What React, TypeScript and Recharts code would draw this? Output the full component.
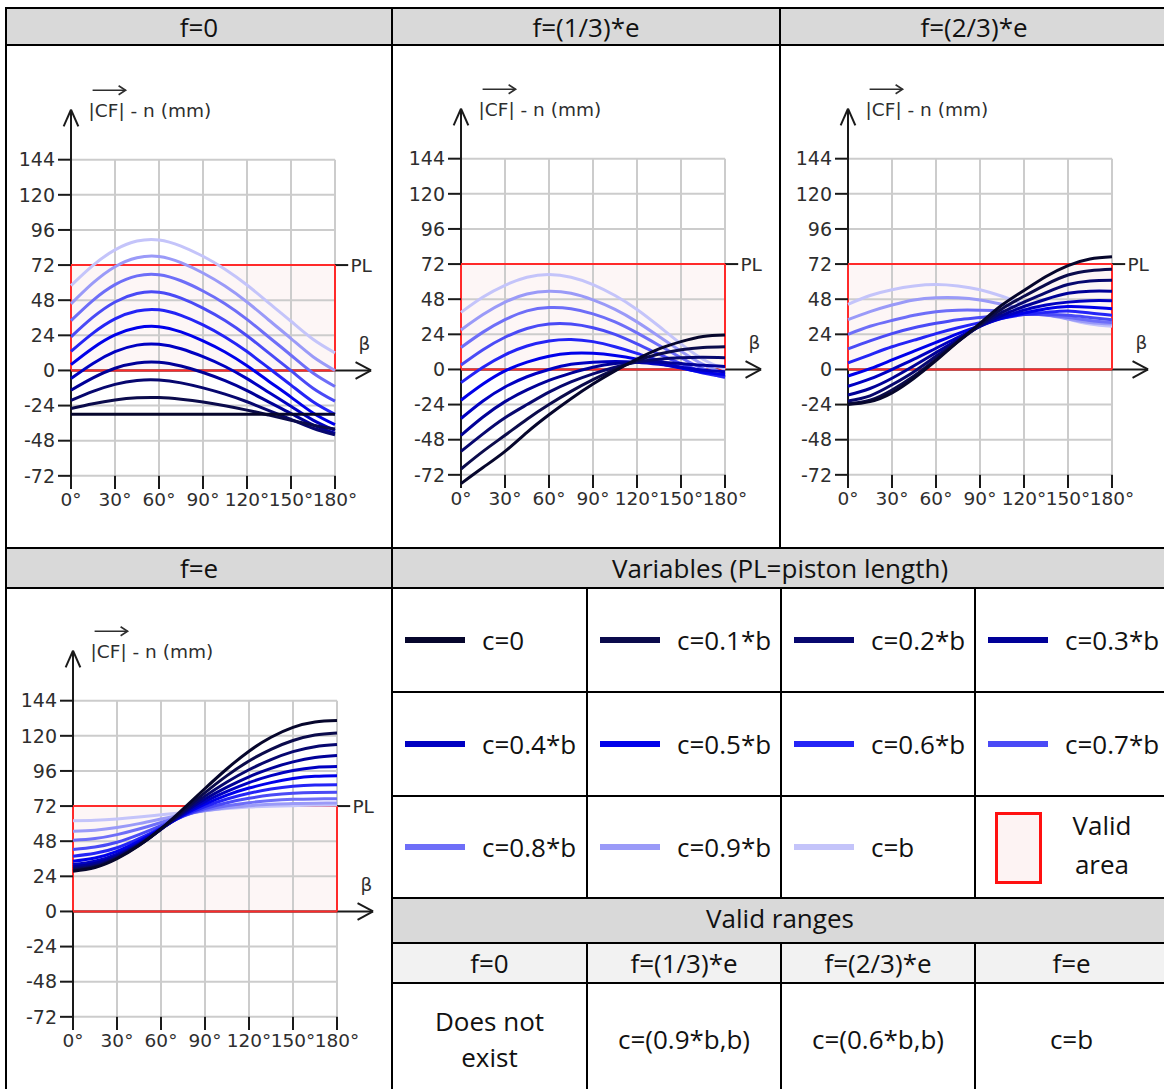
import React from 'react';
import { LineChart, Line, XAxis, YAxis, ReferenceLine, ReferenceArea, ReferenceDot } from 'recharts';

// ---------- data ----------
const betas = [0, 15, 30, 45, 60, 75, 90, 105, 120, 135, 150, 165, 180];
const xTicks = [0, 30, 60, 90, 120, 150, 180];
const yTicks = [-72, -48, -24, 0, 24, 48, 72, 96, 120, 144];
const pistonLength = 72;

const seriesNames = ['c=0', 'c=0.1*b', 'c=0.2*b', 'c=0.3*b', 'c=0.4*b', 'c=0.5*b', 'c=0.6*b', 'c=0.7*b', 'c=0.8*b', 'c=0.9*b', 'c=b'];
const seriesColors = ['#06062c', '#0b0b4c', '#07076f', '#000098', '#0000c2', '#0000ea', '#2424f6', '#4a4af6', '#6e6ef8', '#9a9af8', '#c4c4fa'];

const panelTitles = ['f=0', 'f=(1/3)*e', 'f=(2/3)*e', 'f=e'];
const validRanges = ['Does not exist', 'c=(0.9*b,b)', 'c=(0.6*b,b)', 'c=b'];

// f = 0
const f0Values: number[][] = [
  [-30, -30, -30, -30, -30, -30, -30, -30, -30, -30, -30, -30, -30],
  [-26, -22.7, -20.2, -18.7, -18.5, -19.7, -21.6, -24.1, -27.1, -30.5, -34, -37.4, -40],
  [-20.5, -14.3, -9.5, -6.8, -6.5, -8.5, -11.9, -16.2, -21.4, -27.5, -33.5, -39.5, -44],
  [-13.5, -5.1, 1.5, 5.1, 5.6, 3.0, -1.4, -7, -13.8, -21.6, -29.4, -37.2, -43],
  [-5.5, 4.8, 12.8, 17.3, 17.9, 14.8, 9.4, 2.7, -5.6, -15, -24.5, -33.9, -41],
  [4, 15.4, 24.3, 29.2, 29.9, 26.3, 20.2, 12.6, 3.2, -7.5, -18.2, -29, -37],
  [13, 25.5, 35.2, 40.6, 41.4, 37.6, 31.1, 22.9, 12.9, 1.5, -10, -21.4, -30],
  [23, 36.4, 46.8, 52.6, 53.4, 49.4, 42.6, 34.1, 23.7, 11.8, -0.1, -12.1, -21],
  [34, 47.9, 58.6, 64.6, 65.4, 61.3, 54.3, 45.6, 34.9, 22.7, 10.4, -1.8, -11],
  [45.5, 59.8, 70.9, 77, 77.9, 73.7, 66.6, 57.7, 46.8, 34.3, 21.8, 9.4, 0],
  [58, 71.8, 82.4, 88.4, 89.2, 85, 78, 69.2, 58.4, 46, 33.6, 21.3, 12],
];

// f = (1/3)*e
const f13Values: number[][] = [
  [-78, -67, -56, -43, -31, -20, -10, -1, 7, 14, 19, 22.5, 23.5],
  [-68, -56, -45, -34, -24, -15, -7, 0, 6, 10.5, 13.5, 15, 15.5],
  [-56, -44, -33, -24, -15.5, -8.5, -3, 1.5, 5, 7, 8, 8.3, 8],
  [-45, -32.5, -22, -14, -7.5, -2.5, 1.5, 4, 5, 5, 4, 2.8, 2],
  [-33.5, -21.5, -12, -5, 0, 3.5, 5, 5.5, 5, 3.5, 1.5, -0.5, -1.5],
  [-21, -10, -1, 5, 9, 11, 11, 9.5, 7, 4, 1, -2, -3.5],
  [-9, 1.5, 10, 16, 19.5, 20.5, 19, 15.5, 11, 6, 1.5, -2.5, -5],
  [3, 13.5, 22, 28, 31, 31, 28.5, 24, 17.5, 10.5, 4, -1.5, -5.5],
  [15, 25.5, 34, 40, 42.3, 41.5, 38, 32.5, 25, 16.5, 8, 0.5, -5],
  [27, 37.5, 46, 51.5, 53.4, 52, 47.5, 41, 32.5, 22.5, 12.5, 3.5, -3],
  [39, 49.5, 57.5, 63, 64.8, 63, 58, 50.5, 41, 29.5, 17.5, 7, 0],
];

// f = (2/3)*e
const f23Values: number[][] = [
  [-24, -22, -16, -6, 6, 19, 31.5, 44, 54, 63.5, 71, 75.5, 77],
  [-23.5, -21, -14, -4.5, 7, 19, 30.5, 41.5, 50, 58, 64.5, 67.5, 68.5],
  [-21.5, -18, -10.5, -1.5, 9, 19.5, 30, 39, 46, 52.5, 58, 60.5, 61],
  [-17.5, -13, -6, 2.5, 11.5, 20.5, 29.5, 37, 43, 48, 52, 53.5, 53.5],
  [-11.5, -6.5, 0, 7, 14.5, 22, 29.5, 35.5, 40.5, 44, 46, 47, 47],
  [-4.5, 0.5, 6.5, 12.5, 18.5, 24.5, 30, 35, 38.5, 41.5, 43, 42.5, 41.5],
  [4.5, 10, 15.5, 20, 24.5, 28.5, 32, 35, 37.5, 39, 40, 38.5, 37],
  [14, 19.5, 24.5, 28.5, 31.5, 34, 35.5, 37, 37.5, 37.5, 37, 35.5, 34],
  [24, 29.5, 33.5, 37, 39.5, 40.5, 40.5, 40, 38.5, 37, 35.5, 33.5, 32],
  [34, 39.5, 44, 47.5, 49, 49, 47.5, 44.5, 41, 37.5, 34.5, 32, 31],
  [44.5, 50.5, 54.5, 57, 58, 57, 54.5, 50, 44.5, 39, 34.5, 31, 29.5],
];

// f = e
const feValues: number[][] = [
  [27.5, 30, 36, 45, 56.5, 70, 84, 97.5, 109.5, 119, 125.8, 129.5, 130.5],
  [28.2, 30.5, 36.5, 45.2, 56.3, 68.8, 81.2, 92.8, 102.8, 110.8, 116.8, 120.6, 122],
  [29.1, 31.4, 37, 45.5, 56.2, 67.8, 78.8, 88.5, 96.8, 103.8, 109.2, 112.6, 114],
  [30.5, 32.8, 38, 46, 56.2, 67, 76.8, 85, 92, 97.8, 102.2, 105.2, 106.5],
  [32, 34.3, 39.2, 46.8, 56.3, 66.3, 75, 82, 88, 92.8, 96.3, 98.4, 99],
  [34.3, 36.5, 41, 48, 56.6, 65.7, 73.3, 79.5, 84.3, 88, 90.8, 92.3, 92.7],
  [37.7, 39.7, 43.5, 49.7, 57.2, 65.2, 71.7, 76.8, 80.7, 83.6, 85.5, 86.4, 86.6],
  [42.3, 44, 47.3, 52.5, 58.6, 65, 70.3, 74.3, 77.3, 79.5, 80.8, 81.3, 81.4],
  [48.6, 49.8, 52.5, 56.3, 60.8, 65.5, 69.3, 72.2, 74.3, 75.8, 76.6, 76.9, 77],
  [54.8, 55.5, 57.3, 60, 63.2, 66.3, 68.8, 70.8, 72.3, 73.2, 73.8, 74, 74.1],
  [62, 62.3, 63.2, 64.5, 66, 67.5, 69, 70.3, 71.3, 71.9, 72.3, 72.6, 72.7],
];

// ---------- styling ----------
const chartFont = '"DejaVu Sans", "Liberation Sans", sans-serif';
const tableFont = '"Open Sans", "Noto Sans", sans-serif';
const axisInk = '#1a1a1a';
const labelInk = '#2e2e2e';
const gridInk = '#cccccc';
const validRed = '#ff2a2a';

function buildData(values: number[][]) {
  return betas.map((b, i) => {
    const row: Record<string, number> = { beta: b };
    values.forEach((s, k) => {
      row['s' + k] = s[i];
    });
    return row;
  });
}

const AxisTitle = (props: any) => {
  const vb = props.viewBox || props;
  const x = vb.x;
  const y = vb.y;
  return (
    <g>
      <text x={x} y={y} fontFamily={chartFont} fontSize={18.5} fill={labelInk}>
        |CF| - n (mm)
      </text>
      <line x1={x + 4} y1={y - 27} x2={x + 37} y2={y - 27} stroke={labelInk} strokeWidth={1.6} />
      <path d={`M${x + 30},${y - 31.5} L${x + 37},${y - 27} L${x + 30},${y - 22.5}`} fill="none" stroke={labelInk} strokeWidth={1.6} />
    </g>
  );
};

const SideText = (text: string, anchor: 'start' | 'middle') => (props: any) => {
  const vb = props.viewBox || props;
  return (
    <text x={vb.x} y={vb.y} fontFamily={chartFont} fontSize={18.5} fill={labelInk} textAnchor={anchor} dominantBaseline="central">
      {text}
    </text>
  );
};

function Chart({ values, left, top }: { values: number[][]; left: number; top: number }) {
  const data = buildData(values);
  const order = values.map((_, k) => values.length - 1 - k);
  return (
    <div style={{ position: 'absolute', left, top }}>
      <LineChart width={394} height={454} data={data} margin={{ top: 27, right: 60, left: 10, bottom: 15 }}>
        {yTicks.map((t) => (
          <ReferenceLine key={'gh' + t} segment={[{ x: 0, y: t }, { x: 180, y: t }]} stroke={gridInk} strokeWidth={2} ifOverflow="visible" />
        ))}
        {xTicks.map((t) => (
          <ReferenceLine key={'gv' + t} segment={[{ x: t, y: -72 }, { x: t, y: 144 }]} stroke={gridInk} strokeWidth={2} ifOverflow="visible" />
        ))}
        <XAxis
          dataKey="beta"
          type="number"
          domain={[0, 180]}
          ticks={xTicks}
          interval={0}
          tickFormatter={(v: number) => `${v}°`}
          axisLine={false}
          tickLine={false}
          tickSize={0}
          tickMargin={4}
          height={30}
          tick={{ fontFamily: chartFont, fontSize: 18.5, fill: labelInk }}
        />
        <YAxis
          type="number"
          domain={[-81, 180]}
          ticks={yTicks}
          interval={0}
          axisLine={false}
          tickSize={13}
          tickMargin={3}
          width={60}
          tickLine={{ stroke: axisInk, strokeWidth: 2 }}
          tick={{ fontFamily: chartFont, fontSize: 19, fill: labelInk }}
        />
        <ReferenceArea x1={0} x2={180} y1={0} y2={pistonLength} fill="#e08888" fillOpacity={0.08} stroke="none" ifOverflow="visible" />
        {xTicks.map((t) => (
          <ReferenceLine key={'xt' + t} segment={[{ x: t, y: -72 }, { x: t, y: -81 }]} stroke={axisInk} strokeWidth={2} ifOverflow="visible" />
        ))}
        <ReferenceLine segment={[{ x: 0, y: -81 }, { x: 0, y: 178 }]} stroke={axisInk} strokeWidth={2} ifOverflow="visible" />
        <ReferenceLine segment={[{ x: -5, y: 166.8 }, { x: 0, y: 178.2 }]} stroke={axisInk} strokeWidth={2} ifOverflow="visible" />
        <ReferenceLine segment={[{ x: 5, y: 166.8 }, { x: 0, y: 178.2 }]} stroke={axisInk} strokeWidth={2} ifOverflow="visible" />
        <ReferenceLine segment={[{ x: 0, y: 0 }, { x: 204.5, y: 0 }]} stroke={axisInk} strokeWidth={2} ifOverflow="visible" />
        <ReferenceLine segment={[{ x: 194, y: 5.7 }, { x: 204.6, y: 0 }]} stroke={axisInk} strokeWidth={2} ifOverflow="visible" />
        <ReferenceLine segment={[{ x: 194, y: -5.7 }, { x: 204.6, y: 0 }]} stroke={axisInk} strokeWidth={2} ifOverflow="visible" />
        <ReferenceLine segment={[{ x: 180, y: pistonLength }, { x: 189, y: pistonLength }]} stroke={axisInk} strokeWidth={2} ifOverflow="visible" />
        <ReferenceLine segment={[{ x: 0, y: 0 }, { x: 180, y: 0 }]} stroke={validRed} strokeWidth={2} ifOverflow="visible" />
        <ReferenceLine segment={[{ x: 0, y: pistonLength }, { x: 180, y: pistonLength }]} stroke={validRed} strokeWidth={2} ifOverflow="visible" />
        <ReferenceLine segment={[{ x: 0, y: 0 }, { x: 0, y: pistonLength }]} stroke={validRed} strokeWidth={2} ifOverflow="visible" />
        <ReferenceLine segment={[{ x: 180, y: 0 }, { x: 180, y: pistonLength }]} stroke={validRed} strokeWidth={2} ifOverflow="visible" />
        <ReferenceDot x={190.5} y={pistonLength} r={0} fill="none" stroke="none" ifOverflow="visible" label={SideText('PL', 'start')} />
        <ReferenceDot x={200} y={18.5} r={0} fill="none" stroke="none" ifOverflow="visible" label={SideText('β', 'middle')} />
        <ReferenceDot x={12} y={173} r={0} fill="none" stroke="none" ifOverflow="visible" label={AxisTitle} />
        {order.map((k) => (
          <Line
            key={k}
            type="natural"
            dataKey={'s' + k}
            name={seriesNames[k]}
            stroke={seriesColors[k]}
            strokeWidth={3}
            dot={false}
            activeDot={false}
            isAnimationActive={false}
          />
        ))}
      </LineChart>
    </div>
  );
}

// ---------- table helpers ----------
function HLine({ x1, x2, y }: { x1: number; x2: number; y: number }) {
  return <div style={{ position: 'absolute', left: x1 - 1, top: y - 1, width: x2 - x1 + 2, height: 2, background: '#000' }} />;
}
function VLine({ x, y1, y2 }: { x: number; y1: number; y2: number }) {
  return <div style={{ position: 'absolute', left: x - 1, top: y1 - 1, width: 2, height: y2 - y1 + 2, background: '#000' }} />;
}
function Fill({ l, t, r, b, bg }: { l: number; t: number; r: number; b: number; bg: string }) {
  return <div style={{ position: 'absolute', left: l, top: t, width: r - l, height: b - t, background: bg }} />;
}
function Txt({ l, r, cy, children, lh }: { l: number; r: number; cy: number; children: React.ReactNode; lh?: number }) {
  return (
    <div
      style={{
        position: 'absolute',
        left: l,
        width: r - l,
        top: cy - 50,
        height: 100,
        display: 'flex',
        alignItems: 'center',
        justifyContent: 'center',
        textAlign: 'center',
        fontFamily: tableFont,
        fontSize: 26,
        lineHeight: `${lh || 36}px`,
        color: '#111',
      }}
    >
      <div>{children}</div>
    </div>
  );
}

function LegendCell({ k, left, cy }: { k: number; left: number; cy: number }) {
  return (
    <>
      <div style={{ position: 'absolute', left: left + 13, top: cy - 3, width: 60, height: 6, background: seriesColors[k] }} />
      <div
        style={{
          position: 'absolute',
          left: left + 90,
          top: cy - 20,
          height: 40,
          lineHeight: '40px',
          fontFamily: tableFont,
          fontSize: 26,
          color: '#111',
          whiteSpace: 'nowrap',
        }}
      >
        {seriesNames[k]}
      </div>
    </>
  );
}

export default function App() {
  const lowCols = [392, 587, 781, 975, 1168];
  const legendRows = [640, 744, 847];
  return (
    <div style={{ position: 'absolute', left: 0, top: 0, width: 1164, height: 1089, overflow: 'hidden', background: '#fff' }}>
      {/* backgrounds */}
      <Fill l={6} t={8} r={1168} b={45} bg="#d9d9d9" />
      <Fill l={6} t={548} r={1168} b={588} bg="#d9d9d9" />
      <Fill l={392} t={898} r={1168} b={943} bg="#d9d9d9" />
      <Fill l={392} t={943} r={1168} b={983} bg="#f2f2f2" />

      {/* charts */}
      <Chart values={f0Values} left={0.5} top={80.3} />
      <Chart values={f13Values} left={390.5} top={79.3} />
      <Chart values={f23Values} left={778} top={79.3} />
      <Chart values={feValues} left={2.5} top={621.3} />

      {/* legend */}
      {[0, 1, 2, 3].map((c) => (
        <LegendCell key={'a' + c} k={c} left={lowCols[c]} cy={legendRows[0]} />
      ))}
      {[0, 1, 2, 3].map((c) => (
        <LegendCell key={'b' + c} k={4 + c} left={lowCols[c]} cy={legendRows[1]} />
      ))}
      {[0, 1, 2].map((c) => (
        <LegendCell key={'c' + c} k={8 + c} left={lowCols[c]} cy={legendRows[2]} />
      ))}
      <div style={{ position: 'absolute', left: 995, top: 812, width: 41, height: 66, border: '3px solid #ff1010', background: '#fdf3f3' }} />
      <Txt l={1040} r={1164} cy={845} lh={39}>
        Valid
        <br />
        area
      </Txt>

      {/* borders */}
      <HLine x1={6} x2={1168} y={8} />
      <HLine x1={6} x2={1168} y={45} />
      <HLine x1={6} x2={1168} y={548} />
      <HLine x1={6} x2={1168} y={588} />
      <HLine x1={392} x2={1168} y={692} />
      <HLine x1={392} x2={1168} y={796} />
      <HLine x1={392} x2={1168} y={898} />
      <HLine x1={392} x2={1168} y={943} />
      <HLine x1={392} x2={1168} y={983} />
      <VLine x={6} y1={8} y2={1095} />
      <VLine x={392} y1={8} y2={1095} />
      <VLine x={780} y1={8} y2={548} />
      {[587, 781, 975].map((x) => (
        <React.Fragment key={x}>
          <VLine x={x} y1={588} y2={898} />
          <VLine x={x} y1={943} y2={1095} />
        </React.Fragment>
      ))}

      {/* header texts */}
      <Txt l={6} r={392} cy={27}>{panelTitles[0]}</Txt>
      <Txt l={392} r={780} cy={27}>{panelTitles[1]}</Txt>
      <Txt l={780} r={1168} cy={27}>{panelTitles[2]}</Txt>
      <Txt l={6} r={392} cy={568}>{panelTitles[3]}</Txt>
      <Txt l={392} r={1168} cy={568}>Variables (PL=piston length)</Txt>
      <Txt l={392} r={1168} cy={918}>Valid ranges</Txt>
      {panelTitles.map((t, i) => (
        <Txt key={t} l={lowCols[i]} r={lowCols[i + 1]} cy={963}>{t}</Txt>
      ))}
      <Txt l={lowCols[0]} r={lowCols[1]} cy={1039}>
        Does not
        <br />
        exist
      </Txt>
      {validRanges.slice(1).map((t, i) => (
        <Txt key={t} l={lowCols[i + 1]} r={lowCols[i + 2]} cy={1039}>{t}</Txt>
      ))}
    </div>
  );
}
